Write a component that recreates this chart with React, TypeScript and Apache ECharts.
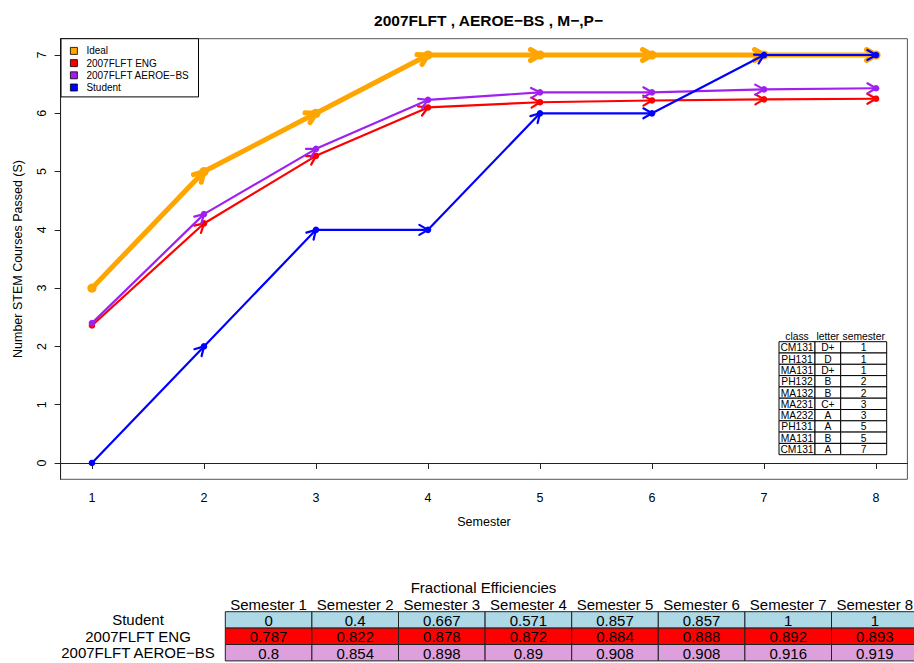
import React, { useEffect, useRef } from "react";
import * as echarts from "echarts";

// Cumulative STEM courses passed per semester
const semesters = [1, 2, 3, 4, 5, 6, 7, 8];
const idealPath = [3, 5, 6, 7, 7, 7, 7, 7];
const engCohort = [2.36, 4.11, 5.27, 6.1, 6.19, 6.22, 6.24, 6.25];
const aeroCohort = [2.4, 4.27, 5.39, 6.23, 6.36, 6.36, 6.41, 6.43];
const studentPath = [0, 2, 4, 4, 6, 6, 7, 7];

const yTickValues = [0, 1, 2, 3, 4, 5, 6, 7];

// Courses taken by the student
const courseClass = ["CM131", "PH131", "MA131", "PH132", "MA132", "MA231", "MA232", "PH131", "MA131", "CM131"];
const courseLetter = ["D+", "D", "D+", "B", "B", "C+", "A", "A", "B", "A"];
const courseSemester = ["1", "1", "1", "2", "2", "3", "3", "5", "5", "7"];
const courseHeaders = ["class", "letter", "semester"];

// Fractional efficiencies table
const effHeaders = ["Semester 1", "Semester 2", "Semester 3", "Semester 4", "Semester 5", "Semester 6", "Semester 7", "Semester 8"];
const effRowNames = ["Student", "2007FLFT ENG", "2007FLFT AEROE\u2212BS"];
const effStudent = ["0", "0.4", "0.667", "0.571", "0.857", "0.857", "1", "1"];
const effEng = ["0.787", "0.822", "0.878", "0.872", "0.884", "0.888", "0.892", "0.893"];
const effAero = ["0.8", "0.854", "0.898", "0.89", "0.908", "0.908", "0.916", "0.919"];

const FONT = "'Liberation Sans', Arial, Helvetica, sans-serif";

type LineSpec = { name: string; values: number[]; color: string; width: number; r: number; head: number };

const lineSpecs: LineSpec[] = [
  { name: "Ideal", values: idealPath, color: "#FFA500", width: 5, r: 4.6, head: 11 },
  { name: "2007FLFT ENG", values: engCohort, color: "#FF0000", width: 2.2, r: 3.3, head: 10 },
  { name: "2007FLFT AEROE\u2212BS", values: aeroCohort, color: "#A020F0", width: 2.2, r: 3.3, head: 10 },
  { name: "Student", values: studentPath, color: "#0000FF", width: 2.2, r: 3.3, head: 10 },
];

function arrowSeries(spec: LineSpec) {
  return {
    type: "custom",
    name: spec.name,
    coordinateSystem: "cartesian2d",
    itemStyle: { color: spec.color },
    encode: { x: 0, y: 1 },
    data: spec.values.map((v, i) => [semesters[i], v]),
    renderItem: (params: any, api: any) => {
      const i = params.dataIndex;
      const p = api.coord([api.value(0), api.value(1)]);
      const children: any[] = [];
      if (i > 0) {
        const q = api.coord([semesters[i - 1], spec.values[i - 1]]);
        children.push({
          type: "line",
          shape: { x1: q[0], y1: q[1], x2: p[0], y2: p[1] },
          style: { stroke: spec.color, lineWidth: spec.width, lineCap: "round" },
        });
        const a = Math.atan2(p[1] - q[1], p[0] - q[0]);
        const s = Math.PI / 6;
        const h = spec.head;
        children.push({
          type: "polyline",
          shape: {
            points: [
              [p[0] - h * Math.cos(a - s), p[1] - h * Math.sin(a - s)],
              [p[0], p[1]],
              [p[0] - h * Math.cos(a + s), p[1] - h * Math.sin(a + s)],
            ],
          },
          style: { stroke: spec.color, lineWidth: spec.width, fill: "none", lineCap: "round", lineJoin: "round" },
        });
      }
      children.push({
        type: "circle",
        shape: { cx: p[0], cy: p[1], r: spec.r },
        style: { fill: spec.color },
      });
      return { type: "group", children };
    },
  };
}

function courseTable() {
  const colEdges = [779, 815, 840.7, 886.7];
  const top = 341.7;
  const rowH = 11.3;
  const els: any[] = [];
  const cols = [courseClass, courseLetter, courseSemester];
  courseHeaders.forEach((h, c) => {
    els.push({
      type: "text",
      x: (colEdges[c] + colEdges[c + 1]) / 2,
      y: top - 5,
      style: { text: h, fontSize: 10.3, fontFamily: FONT, fill: "#000", align: "center", verticalAlign: "middle" },
    });
  });
  courseClass.forEach((_, r) => {
    cols.forEach((col, c) => {
      els.push({
        type: "rect",
        shape: { x: colEdges[c], y: top + r * rowH, width: colEdges[c + 1] - colEdges[c], height: rowH },
        style: { fill: "#fff", stroke: "#000", lineWidth: 1 },
      });
      els.push({
        type: "text",
        x: (colEdges[c] + colEdges[c + 1]) / 2,
        y: top + r * rowH + rowH / 2 + 0.5,
        style: { text: col[r], fontSize: 10.3, fontFamily: FONT, fill: "#000", align: "center", verticalAlign: "middle" },
      });
    });
  });
  return els;
}

function efficiencyTable() {
  const left = 225.3;
  const colW = 86.6;
  const top = 611.7;
  const rowH = 16.4;
  const rows = [effStudent, effEng, effAero];
  const fills = ["#ADD8E6", "#FF0000", "#DDA0DD"];
  const els: any[] = [];
  els.push({
    type: "text",
    x: 483.5,
    y: 587,
    style: { text: "Fractional Efficiencies", fontSize: 15, fontFamily: FONT, fill: "#000", align: "center", verticalAlign: "middle" },
  });
  effHeaders.forEach((h, c) => {
    els.push({
      type: "text",
      x: left + c * colW + colW / 2,
      y: 604.3,
      style: { text: h, fontSize: 15, fontFamily: FONT, fill: "#000", align: "center", verticalAlign: "middle" },
    });
  });
  rows.forEach((row, r) => {
    els.push({
      type: "text",
      x: 138,
      y: top + r * rowH + rowH / 2,
      style: { text: effRowNames[r], fontSize: 15, fontFamily: FONT, fill: "#000", align: "center", verticalAlign: "middle" },
    });
    row.forEach((val, c) => {
      els.push({
        type: "rect",
        shape: { x: left + c * colW, y: top + r * rowH, width: colW, height: rowH },
        style: { fill: fills[r], stroke: "#222", lineWidth: 1 },
      });
      els.push({
        type: "text",
        x: left + c * colW + colW / 2,
        y: top + r * rowH + rowH / 2 + 0.5,
        style: { text: val, fontSize: 15, fontFamily: FONT, fill: "#000", align: "center", verticalAlign: "middle" },
      });
    });
  });
  return els;
}

export default function App() {
  const ref = useRef<HTMLDivElement>(null);

  useEffect(() => {
    if (!ref.current) return;
    const chart = echarts.init(ref.current, undefined, { renderer: "svg" });
    const axisText = { color: "#000", fontSize: 12.5, fontFamily: FONT };
    chart.setOption({
      animation: false,
      backgroundColor: "#fff",
      title: {
        text: "2007FLFT , AEROE\u2212BS , M\u2212,P\u2212",
        left: 483.5,
        textAlign: "center",
        top: 7,
        textStyle: { fontSize: 15.5, fontWeight: "bold", fontFamily: FONT, color: "#000" },
      },
      grid: {
        left: 60.6,
        right: 6.6,
        top: 38.7,
        bottom: 183.7,
        show: true,
        borderColor: "#555",
        borderWidth: 1,
        containLabel: false,
      },
      legend: {
        left: 61,
        top: 38.7,
        orient: "vertical",
        icon: "rect",
        itemWidth: 7,
        itemHeight: 7,
        itemGap: 0.2,
        padding: [6.2, 9, 3.4, 9],
        borderColor: "#000",
        borderWidth: 1,
        borderRadius: 0,
        backgroundColor: "#fff",
        selectedMode: false,
        textStyle: { fontSize: 10, lineHeight: 12, color: "#000", fontFamily: FONT, padding: [0, 0, 0, 4] },
        data: lineSpecs.map((s) => ({
          name: s.name,
          itemStyle: { color: s.color, borderColor: "#000", borderWidth: 0.8 },
        })),
      },
      xAxis: {
        type: "value",
        min: 0.72,
        max: 8.28,
        splitLine: { show: false },
        axisLine: { show: true, lineStyle: { color: "#222", width: 1 } },
        axisTick: { show: true, length: 6, customValues: semesters, lineStyle: { color: "#222" } },
        axisLabel: { ...axisText, margin: 12, customValues: semesters },
        name: "Semester",
        nameLocation: "middle",
        nameGap: 36,
        nameTextStyle: axisText,
      },
      yAxis: {
        type: "value",
        min: -0.28,
        max: 7.28,
        splitLine: { show: false },
        axisLine: { show: true, lineStyle: { color: "#222", width: 1 } },
        axisTick: { show: true, length: 6, customValues: yTickValues, lineStyle: { color: "#222" } },
        axisLabel: { ...axisText, margin: 12, rotate: 90, customValues: yTickValues },
        name: "Number STEM Courses Passed (S)",
        nameLocation: "middle",
        nameGap: 36,
        nameTextStyle: axisText,
      },
      series: lineSpecs.map(arrowSeries),
      graphic: [...courseTable(), ...efficiencyTable()],
    });
    return () => chart.dispose();
  }, []);

  return (
    <div
      ref={ref}
      style={{ position: "fixed", left: 0, top: 0, width: 914, height: 663, background: "#fff" }}
    />
  );
}
